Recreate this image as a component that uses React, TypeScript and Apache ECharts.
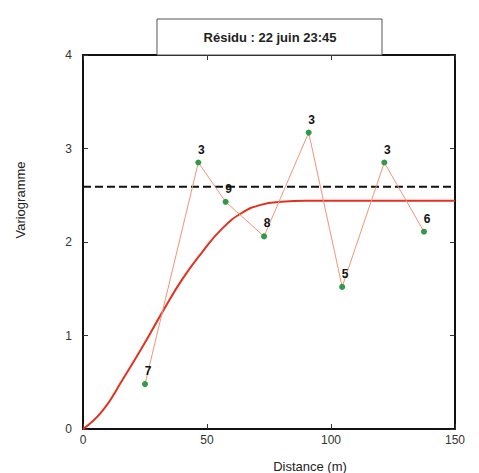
import React, { useEffect, useRef } from "react";
import * as echarts from "echarts";

const titleText = "Résidu : 22 juin 23:45";
const xAxisTitle = "Distance (m)";
const yAxisTitle = "Variogramme";

// experimental variogram (distance, value, pair count)
const expDistance = [25, 46.5, 57.5, 73, 91, 104.5, 121.5, 137.5];
const expValue = [0.48, 2.85, 2.43, 2.06, 3.17, 1.52, 2.85, 2.11];
const expPairs = [7, 3, 9, 8, 3, 5, 3, 6];

// fitted model curve
const modelDistance = [0, 8, 16, 24, 32, 40, 48, 56, 64, 72, 80, 90, 150];
const modelValue = [0, 0.2, 0.53, 0.88, 1.25, 1.6, 1.89, 2.14, 2.31, 2.4, 2.43, 2.44, 2.44];

// sill (dashed)
const sillValue = 2.59;
const xRange = [0, 150];

const xTicks = [0, 50, 100, 150];
const yTicks = [0, 1, 2, 3, 4];

const FONT = "Liberation Sans";

export default function App() {
  const ref = useRef<HTMLDivElement>(null);
  useEffect(() => {
    if (!ref.current) return;
    const chart = echarts.init(ref.current, null, { renderer: "svg" });
    const axisCommon = {
      axisLine: { show: true, onZero: false, lineStyle: { color: "#111", width: 2 } },
      axisTick: { show: true, inside: true, length: 5, lineStyle: { color: "#333", width: 1 } },
      splitLine: { show: false },
    };
    chart.setOption({
      animation: false,
      backgroundColor: "#fff",
      textStyle: { fontFamily: FONT },
      grid: { left: 83, right: 24, top: 55, bottom: 44 },
      xAxis: [
        {
          type: "value",
          min: xTicks[0],
          max: xTicks[xTicks.length - 1],
          interval: 50,
          position: "bottom",
          ...axisCommon,
          axisLabel: { color: "#333", fontSize: 12, margin: 5, fontFamily: FONT },
        },
        {
          type: "value",
          min: xTicks[0],
          max: xTicks[xTicks.length - 1],
          interval: 50,
          position: "top",
          ...axisCommon,
          axisLabel: { show: false },
        },
      ],
      yAxis: [
        {
          type: "value",
          min: yTicks[0],
          max: yTicks[yTicks.length - 1],
          interval: 1,
          position: "left",
          ...axisCommon,
          axisLabel: { color: "#333", fontSize: 12, margin: 11, fontFamily: FONT },
        },
        {
          type: "value",
          min: yTicks[0],
          max: yTicks[yTicks.length - 1],
          interval: 1,
          position: "right",
          ...axisCommon,
          axisLabel: { show: false },
        },
      ],
      series: [
        {
          type: "line",
          data: [
            [xRange[0], sillValue],
            [xRange[1], sillValue],
          ],
          symbol: "none",
          lineStyle: { color: "#111", width: 2, type: [8, 4] },
          z: 2,
        },
        {
          type: "line",
          data: modelDistance.map((d, i) => [d, modelValue[i]]),
          smooth: 0.5,
          symbol: "none",
          lineStyle: { color: "#e2321f", width: 2 },
          z: 3,
        },
        {
          type: "line",
          data: expDistance.map((d, i) => [d, expValue[i]]),
          symbol: "circle",
          symbolSize: 6,
          lineStyle: { color: "#f29478", width: 1 },
          itemStyle: { color: "#2f9a47", borderWidth: 0 },
          label: {
            show: true,
            position: "top",
            distance: 4,
            offset: [3, 0],
            formatter: (p: any) => String(expPairs[p.dataIndex]),
            color: "#111",
            fontWeight: "bold",
            fontSize: 12,
            fontFamily: FONT,
          },
          z: 4,
        },
      ],
      graphic: [
        {
          type: "rect",
          shape: { x: 157, y: 19, width: 225, height: 36 },
          style: { fill: "#fff", stroke: "#555", lineWidth: 1 },
          z: 10,
        },
        {
          type: "text",
          x: 270,
          y: 37,
          style: {
            text: titleText,
            fontSize: 13,
            fontWeight: "bold",
            fontFamily: FONT,
            fill: "#222",
            align: "center",
            verticalAlign: "middle",
          },
          z: 11,
        },
        {
          type: "text",
          x: 310,
          y: 466,
          style: {
            text: xAxisTitle,
            fontSize: 13,
            fontFamily: FONT,
            fill: "#222",
            align: "center",
            verticalAlign: "middle",
          },
        },
        {
          type: "text",
          x: 20,
          y: 200,
          rotation: Math.PI / 2,
          style: {
            text: yAxisTitle,
            fontSize: 13,
            fontFamily: FONT,
            fill: "#222",
            align: "center",
            verticalAlign: "middle",
          },
        },
      ],
    });
    return () => chart.dispose();
  }, []);
  return <div ref={ref} style={{ width: 479, height: 473, position: "absolute", left: 0, top: 0 }} />;
}
